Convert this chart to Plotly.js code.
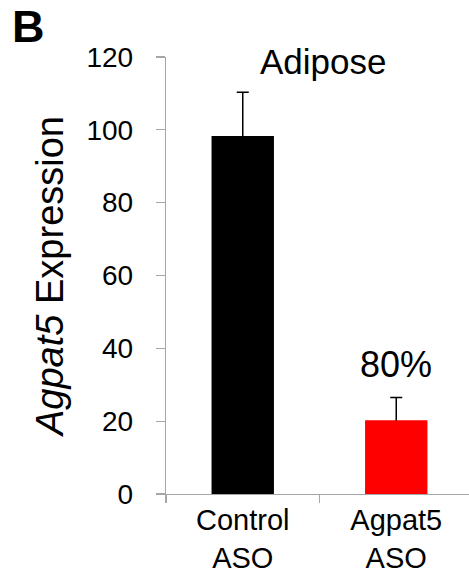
<!DOCTYPE html>
<html>
<head>
<meta charset="utf-8">
<script src="https://cdn.plot.ly/plotly-3.0.1.min.js"></script>
<style>html,body{margin:0;padding:0;background:#fff;}#chart{width:469px;height:575px;}</style>
</head>
<body>
<div id="chart"></div>
<script>
const categories = ['Control ASO', 'Agpat5 ASO'];
const tickLabels = ['Control<br>ASO', 'Agpat5<br>ASO'];
const expression = [98.3, 20.2];
const errorUp = [12.0, 6.3];
const barColors = ['#000000', '#ff0000'];
const yTicks = [0, 20, 40, 60, 80, 100, 120];
const panelLabel = 'B';
const chartTitle = 'Adipose';
const reductionLabel = '80%';

const font = 'Liberation Sans, Arial, sans-serif';

// error bars drawn with the bars, then the same bars drawn on top hide the lower half
const errTrace = {
  type: 'bar',
  x: categories,
  y: expression,
  width: 0.404,
  marker: {color: barColors, line: {width: 0}},
  error_y: {type: 'data', symmetric: true, array: errorUp,
            color: '#000000', thickness: 1.5, width: 6},
  hoverinfo: 'none'
};
const barTrace = {
  type: 'bar',
  x: categories,
  y: expression,
  width: 0.404,
  marker: {color: barColors, line: {width: 0}},
  hoverinfo: 'none'
};

const layout = {
  width: 469, height: 575,
  margin: {l: 166, r: 0, t: 57, b: 81.3, pad: 0},
  paper_bgcolor: '#ffffff', plot_bgcolor: '#ffffff',
  showlegend: false,
  barmode: 'overlay',
  font: {family: font, color: '#000000'},
  xaxis: {
    type: 'category',
    range: [-0.5, 1.474],
    tickmode: 'array', tickvals: categories, ticktext: tickLabels,
    tickson: 'boundaries',
    ticks: 'outside', ticklen: 8, tickcolor: '#a6a6a6', tickwidth: 1.3,
    showline: true, linecolor: '#a6a6a6', linewidth: 1.3,
    showgrid: false, zeroline: false,
    tickfont: {family: font, size: 29, color: '#000000'},
    fixedrange: true
  },
  yaxis: {
    range: [0, 120],
    tickmode: 'array', tickvals: yTicks,
    ticks: 'outside', ticklen: 9, tickcolor: '#a6a6a6', tickwidth: 1.3,
    showline: true, linecolor: '#a6a6a6', linewidth: 1.3,
    showgrid: false, zeroline: false,
    ticklabelstandoff: 17,
    tickfont: {family: font, size: 28, color: '#000000'},
    title: {text: '<i>Agpat5</i> Expression', font: {family: font, size: 38, color: '#000000'}, standoff: 11},
    fixedrange: true
  },
  annotations: [
    {text: '<b>' + panelLabel + '</b>', xref: 'paper', yref: 'paper', x: -166/303, y: 1 + 57/436.7,
     xanchor: 'left', yanchor: 'top', showarrow: false, xshift: 10, yshift: 1,
     font: {family: font, size: 45, color: '#000000'}},
    {text: chartTitle, xref: 'paper', yref: 'paper', x: 0.518, y: 1, xanchor: 'center', yanchor: 'middle',
     showarrow: false, yshift: -4, font: {family: font, size: 35, color: '#000000'}},
    {text: reductionLabel, xref: 'x', yref: 'y', x: categories[1], y: 35.6, xanchor: 'center', yanchor: 'middle',
     showarrow: false, font: {family: font, size: 36, color: '#000000'}}
  ]
};

Plotly.newPlot('chart', [errTrace, barTrace], layout, {displayModeBar: false, staticPlot: true});
</script>
</body>
</html>
